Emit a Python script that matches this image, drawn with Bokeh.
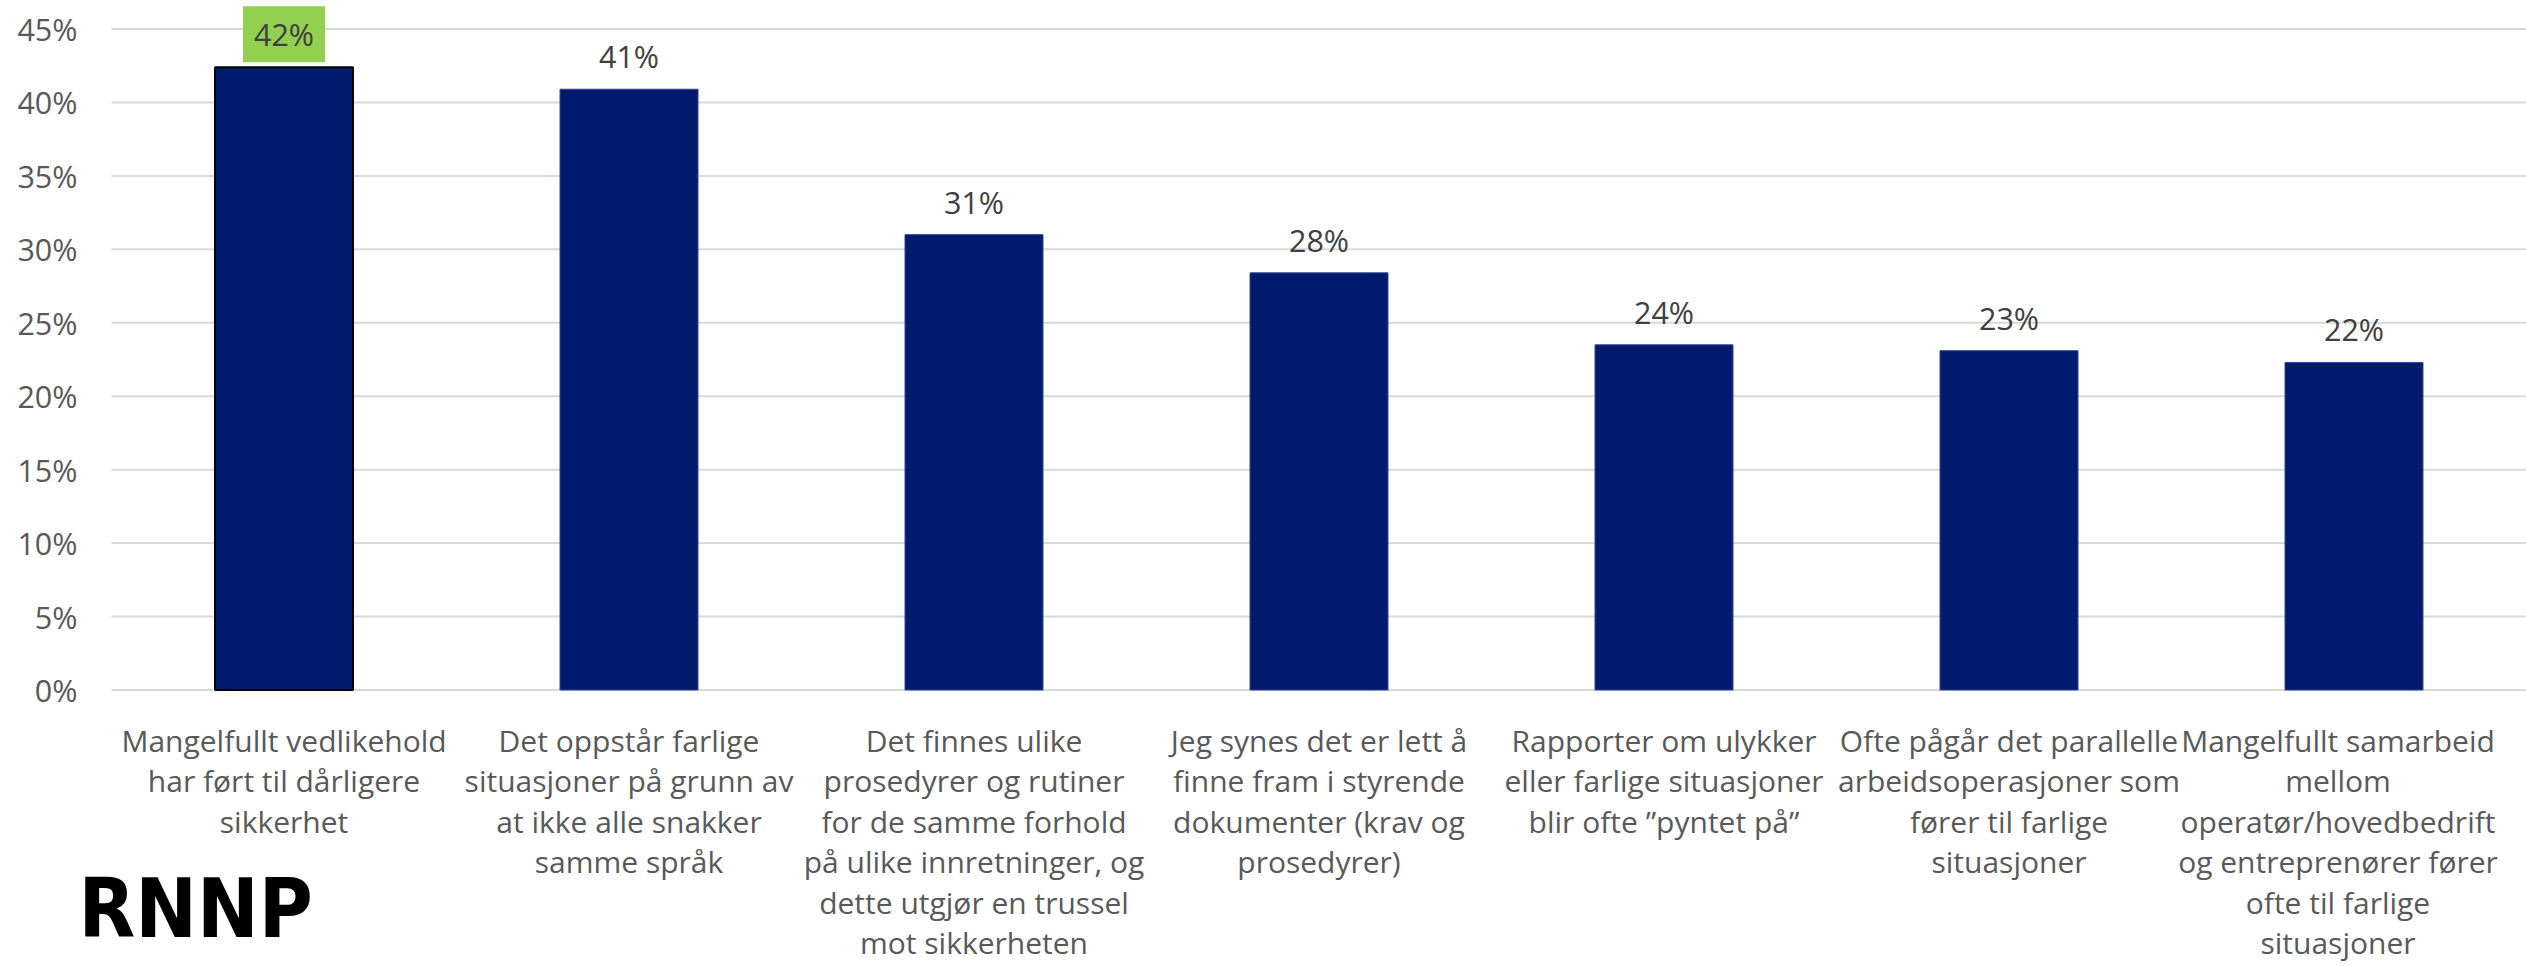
from bokeh.plotting import figure
from bokeh.models import Range1d, FixedTicker, PrintfTickFormatter, ColumnDataSource, Label
from bokeh.core.properties import value
from bokeh.embed import file_html
from bokeh.resources import INLINE

categories = [
    "Mangelfullt vedlikehold\nhar ført til dårligere\nsikkerhet",
    "Det oppstår farlige\nsituasjoner på grunn av\nat ikke alle snakker\nsamme språk",
    "Det finnes ulike\nprosedyrer og rutiner\nfor de samme forhold\npå ulike innretninger, og\ndette utgjør en trussel\nmot sikkerheten",
    "Jeg synes det er lett å\nfinne fram i styrende\ndokumenter (krav og\nprosedyrer)",
    "Rapporter om ulykker\neller farlige situasjoner\nblir ofte ”pyntet på”",
    "Ofte pågår det parallelle\narbeidsoperasjoner som\nfører til farlige\nsituasjoner",
    "Mangelfullt samarbeid\nmellom\noperatør/hovedbedrift\nog entreprenører fører\nofte til farlige\nsituasjoner",
]
values = [42.4, 40.9, 31.0, 28.4, 23.5, 23.1, 22.3]
labels = ["42%", "41%", "31%", "28%", "24%", "23%", "22%"]
y_ticks = [0, 5, 10, 15, 20, 25, 30, 35, 40, 45]

FONT = "Open Sans"
FS = "30.5px"
CAT_FS = "30px"
xs = list(range(len(categories)))
X_START = -0.5957
X_END = 6.5

p = figure(width=2526, height=966, output_backend="svg", toolbar_location=None,
           x_range=Range1d(X_START, X_END), y_range=Range1d(-18.824, 46.94),
           min_border_left=78, min_border_right=0, min_border_top=0, min_border_bottom=0)
p.outline_line_color = None
p.xgrid.grid_line_color = None
p.ygrid.grid_line_color = None
p.xaxis.visible = False

p.yaxis.ticker = FixedTicker(ticks=y_ticks)
p.yaxis.formatter = PrintfTickFormatter(format="%d%%")
p.yaxis.axis_line_color = None
p.yaxis.major_tick_line_color = None
p.yaxis.minor_tick_line_color = None
p.yaxis.major_tick_in = 0
p.yaxis.major_tick_out = 0
p.yaxis.major_label_text_font = FONT
p.yaxis.major_label_text_font_size = FS
p.yaxis.major_label_text_color = "#595959"
p.yaxis.major_label_standoff = 1

# horizontal gridlines, starting at the left edge of the plot area
grid = ColumnDataSource(dict(y=y_ticks, x0=[-0.5] * len(y_ticks), x1=[X_END] * len(y_ticks)))
p.segment(x0="x0", x1="x1", y0="y", y1="y", source=grid, line_color="#D9D9D9", line_width=2)

first = ColumnDataSource(dict(x=xs[:1], top=values[:1], label=labels[:1]))
rest = ColumnDataSource(dict(x=xs[1:], top=values[1:], label=labels[1:]))

p.vbar(x="x", top="top", width=0.4, source=rest, fill_color="#001A6E",
       line_color="#33478F", line_width=1)
p.vbar(x="x", top="top", width=0.4, source=first, fill_color="#001A6E",
       line_color="black", line_width=2)

p.text(x="x", y="top", text="label", source=rest, text_align="center",
       text_baseline="alphabetic", y_offset=-33, text_font=value(FONT),
       text_font_size=FS, text_color="#404040")
p.text(x="x", y="top", text="label", source=first, text_align="center",
       text_baseline="alphabetic", y_offset=-33, text_font=value(FONT),
       text_font_size=FS, text_color="#404040",
       background_fill_color="#92D050", padding=(11, 7))

# category labels below the 0% line (last one nudged left to fit the edge)
nudge = [0, 0, 0, 0, 0, 0, -16]
cats = ColumnDataSource(dict(x=xs, y=[0] * len(xs), label=categories, dx=nudge))
p.text(x="x", y="y", text="label", source=cats, text_align="center",
       text_baseline="top", x_offset="dx", y_offset=30, text_font=value(FONT),
       text_font_size=CAT_FS, text_color="#595959", text_line_height=0.985)

# RNNP logo in the lower left corner
logo = Label(x=X_START, y=-14.9, x_units="data", y_units="data", text="RNNP",
             text_font="DejaVu Sans Condensed", text_font_style="bold",
             text_font_size="82px", text_color="black", text_baseline="alphabetic")
p.add_layout(logo)

open("out.html", "w").write(file_html(p, INLINE))
